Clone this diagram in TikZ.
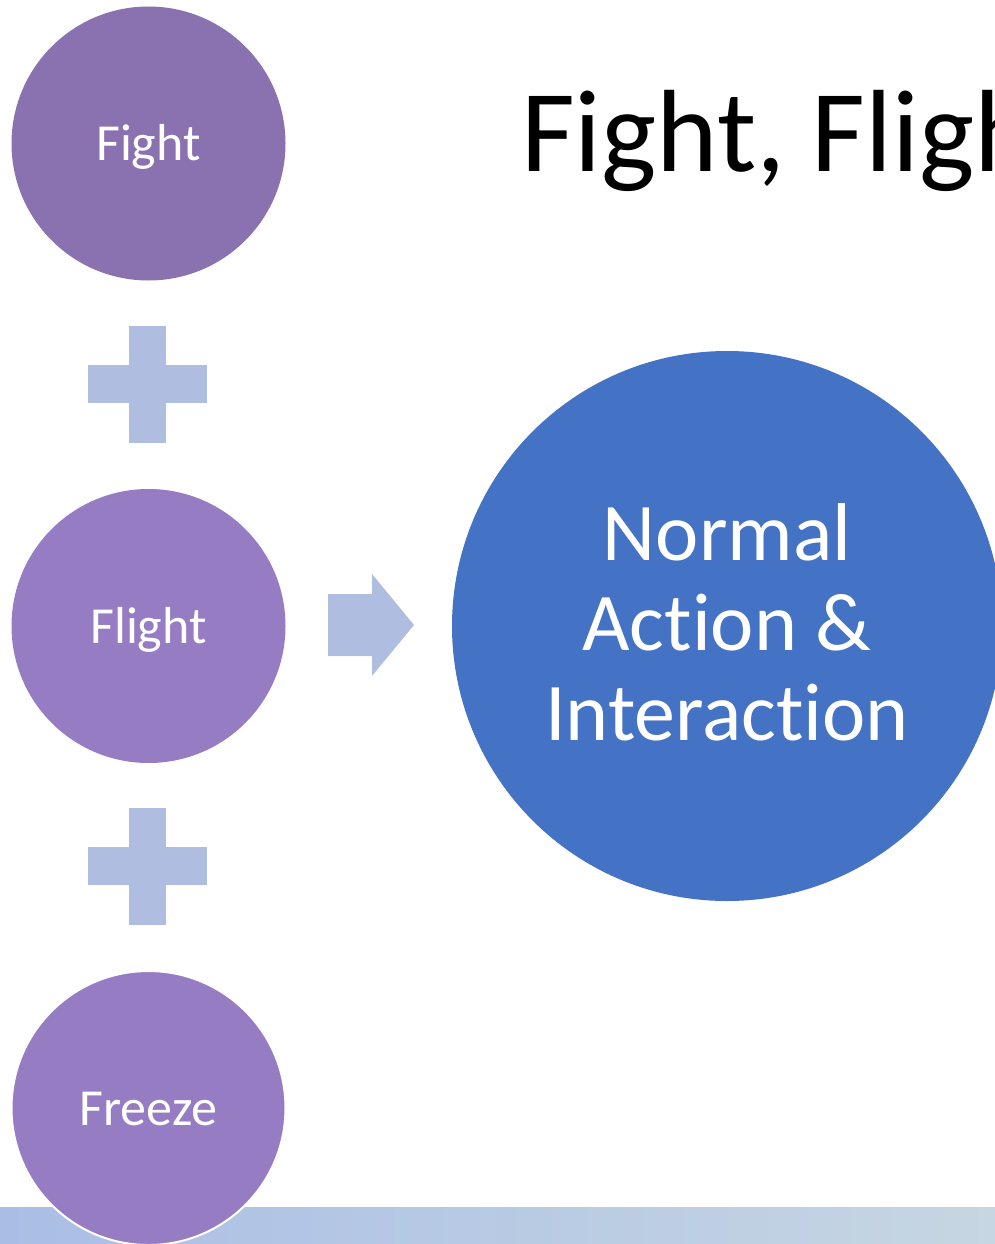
\documentclass[tikz,border=0pt]{standalone}
\usepackage{fontspec}
\setmainfont{Carlito}[Ligatures=NoCommon]
\definecolor{fightcol}{RGB}{138,114,176}
\definecolor{flightcol}{RGB}{150,125,195}
\definecolor{bigblue}{RGB}{68,114,196}
\definecolor{pluscol}{RGB}{175,189,224}
\definecolor{bandleft}{RGB}{170,190,229}
\definecolor{bandright}{RGB}{198,214,226}
\tikzset{
  smallcirc/.style={circle, inner sep=0pt, minimum size=274pt, text=white,
    font=\fontsize{52}{60}\selectfont, text height=34pt, text depth=0pt},
  bigcirc/.style={circle, inner sep=0pt, minimum size=550pt, fill=bigblue, text=white,
    align=center, font=\fontsize{82}{90}\selectfont},
  shapefill/.style={fill=pluscol, draw=none}
}
\begin{document}
\begin{tikzpicture}[x=1pt,y=-1pt]
\useasboundingbox (0,0) rectangle (995,1244);
\clip (0,0) rectangle (995,1244);
% bottom band
\shade[left color=bandleft, right color=bandright] (0,1207) rectangle (995,1244);
% title
\node[anchor=base west, inner sep=0pt, font=\fontsize{117}{130}\selectfont] (title) at (521,171) {Fight, Flight, Freeze};
% circles
\node[smallcirc, fill=fightcol] (fight) at (148.5,143.5) {Fight};
\node[smallcirc, fill=flightcol] (flight) at (148.5,626) {Flight};
\node[smallcirc, fill=flightcol, draw=white, line width=2pt] (freeze) at (148.5,1108) {Freeze};
\node[bigcirc] (normal) at (727,626) {};
\node[text=white, align=center, font=\fontsize{82}{90}\selectfont, inner sep=0pt] (normaltext) at ([yshift=4pt]normal.center) {Normal\\Action \&\\Interaction};
% plus signs
\coordinate (p1) at (147.5,384);
\coordinate (p2) at (147.5,866);
\foreach \p in {p1,p2}{
  \fill[shapefill] ([xshift=-18.5pt,yshift=-58.5pt]\p) rectangle ([xshift=18.5pt,yshift=58.5pt]\p);
  \fill[shapefill] ([xshift=-59.5pt,yshift=-19pt]\p) rectangle ([xshift=59.5pt,yshift=19pt]\p);
}
% block arrow
\fill[shapefill] (328,594) -- (372,594) -- (372,574) -- (414,625) -- (372,676) -- (372,656) -- (328,656) -- cycle;
\end{tikzpicture}
\end{document}
